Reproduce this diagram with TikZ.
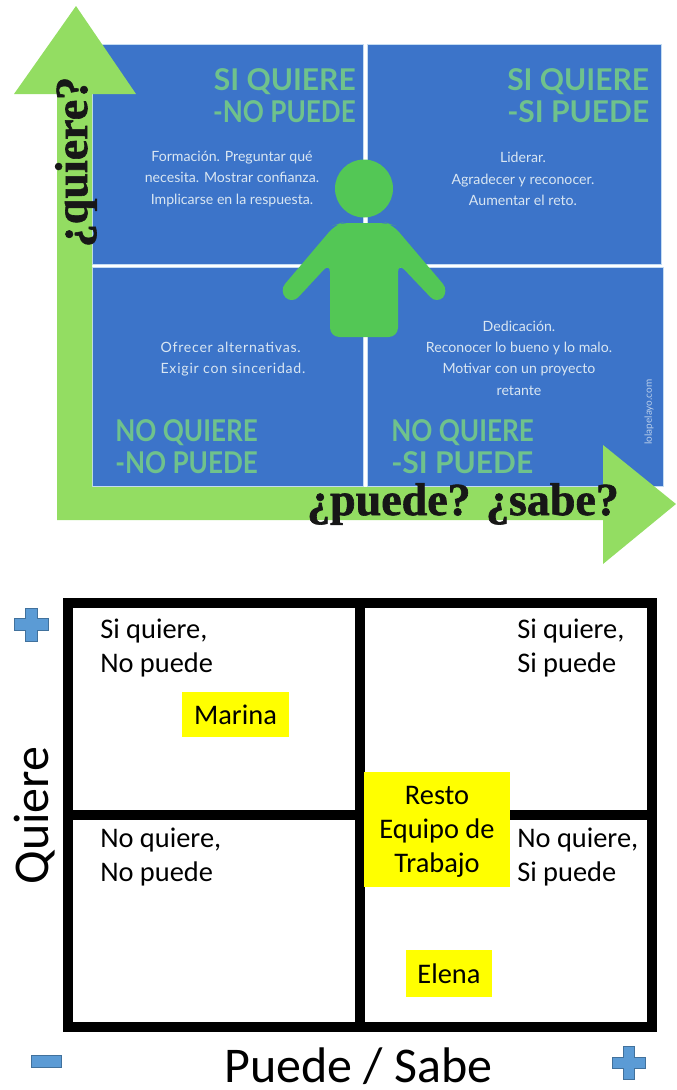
\documentclass[tikz,border=0pt]{standalone}
\usepackage{fontspec}
\usepackage{xcolor}
\usepackage{graphicx}
\setmainfont{Carlito}
\newfontfamily\capsfont{Lato}
\newfontfamily\restfont{Lato}
\newfontfamily\widefont[LetterSpace=5.4]{Lato}
\newfontfamily\fatfont[BoldFeatures={FakeBold=1.3}]{Liberation Serif}
\usetikzlibrary{positioning}
\newcommand{\narrowcaps}[1]{\scalebox{0.87}[1]{#1}}
\definecolor{panelblue}{HTML}{3C74C9}
\definecolor{panelline}{HTML}{C4DCF2}
\definecolor{arrowgreen}{HTML}{93DD62}
\definecolor{mangreen}{HTML}{53C755}
\definecolor{capsgreen}{HTML}{6FC28C}
\definecolor{restwhite}{HTML}{D9E6F2}
\definecolor{signblue}{HTML}{5B9BD5}
\definecolor{signline}{HTML}{41719C}
\definecolor{boxyellow}{RGB}{255,255,0}
\definecolor{fatblack}{HTML}{171717}
\tikzset{
  quadrant/.style={fill=panelblue,draw=panelline,line width=0.6pt},
  capslabel/.style={font=\capsfont\bfseries\fontsize{22.5}{24.5}\selectfont,text=capsgreen,inner sep=0pt},
  restlabel/.style={font=\restfont\fontsize{10.6}{16}\selectfont,text=restwhite,inner sep=0pt,align=center},
  fatlabel/.style={font=\fatfont\bfseries\fontsize{34.5}{34.5}\selectfont,text=fatblack,inner sep=0pt},
  framebox/.style={draw=black,line width=7.5pt},
  caselabel/.style={font=\fontsize{21.3}{25.5}\selectfont,inner sep=0pt,align=left,anchor=north west},
  namebox/.style={fill=boxyellow,inner sep=0pt,font=\fontsize{21.3}{25.5}\selectfont,align=center},
  axislabel/.style={font=\fontsize{37.5}{37.5}\selectfont,inner sep=0pt},
  sign/.style={fill=signblue,draw=signline,line width=0.5pt}
}
\begin{document}
\begin{tikzpicture}[x=0.75pt,y=-0.75pt]
\useasboundingbox (0,0) rectangle (676,1090);
\draw[quadrant] (92,44) rectangle (363,264);
\draw[quadrant] (367,44) rectangle (661,264);
\draw[quadrant] (92,267) rectangle (363,486);
\draw[quadrant] (367,267) rectangle (663,486);
\fill[mangreen] (364,188.5) circle (29);
\fill[mangreen,rounded corners=7] (341,223) -- (387,223) -- (393,225) -- (449,291) -- (437,304) -- (398,263) -- (398,337) -- (330,337) -- (330,263) -- (292,304) -- (279,291) -- (335,225) -- cycle;
\fill[arrowgreen] (57,520) -- (57,94) -- (14,94) -- (76,6) -- (136,94) -- (92,94) -- (92,487) -- (603,487) -- (603,445) -- (676,504) -- (603,564) -- (603,520) -- cycle;
\node[capslabel,align=right,anchor=north east] (sqnp) at (356,68) {SI QUIERE\\\narrowcaps{-NO PUEDE}};
\node[capslabel,align=left,anchor=north west] (sqsp) at (507,68) {SI QUIERE\\-SI PUEDE};
\node[capslabel,align=left,anchor=north west] (nqnp) at (115,419) {\narrowcaps{NO QUIERE}\\\narrowcaps{-NO PUEDE}};
\node[capslabel,align=left,anchor=north west] (nqsp) at (391,419) {\narrowcaps{NO QUIERE}\\-SI PUEDE};
\node[restlabel] (tl) at (232,179) {Formación. Preguntar qué\\necesita. Mostrar confianza.\\Implicarse en la respuesta.};
\node[restlabel] (tr) at (523,179) {Liderar.\\Agradecer y reconocer.\\Aumentar el reto.};
\node[restlabel,align=left,font=\widefont\fontsize{10.6}{16}\selectfont] (bl) at (233,359) {Ofrecer alternativas.\\Exigir con sinceridad.};
\node[restlabel] (br) at (519,358) {Dedicación.\\Reconocer lo bueno y lo malo.\\Motivar con un proyecto\\retante};
\node[font=\restfont\fontsize{7.5}{9}\selectfont,text=restwhite!80!panelblue,rotate=90,inner sep=0pt] (web) at (649,412) {lolapelayo.com};
\node[fatlabel,rotate=90] (quiere) at (76,162) {¿quiere?};
\node[fatlabel] (puede) at (463,504) {¿puede? ¿sabe?};
\draw[framebox] (68,603) rectangle (652,1027);
\draw[framebox] (360,603) -- (360,1027);
\draw[framebox] (68,815) -- (652,815);
\node[caselabel] (c1) at (100,619) {Si quiere,\\No puede};
\node[caselabel] (c2) at (517,619) {Si quiere,\\Si puede};
\node[caselabel] (c3) at (100,828) {No quiere,\\No puede};
\node[caselabel] (c4) at (517,828) {No quiere,\\Si puede};
\node[namebox,minimum width=80.25pt,minimum height=33.75pt] (marina) at (235.5,714.5) {Marina};
\node[namebox,minimum width=109.5pt,minimum height=86.25pt] (resto) at (437,829.5) {\rule{0pt}{17pt}Resto\\Equipo de\\Trabajo};
\node[namebox,minimum width=64.5pt,minimum height=35.25pt] (elena) at (449,973.5) {Elena};
\node[axislabel,rotate=90] (ejey) at (35,815.5) {Quiere};
\node[axislabel,anchor=base] (ejex) at (358.5,1082) {Puede / Sabe};
\draw[sign] (25,608) -- (37,608) -- (37,618) -- (48,618) -- (48,630) -- (37,630) -- (37,641) -- (25,641) -- (25,630) -- (14,630) -- (14,618) -- (25,618) -- cycle;
\draw[sign] (623,1046) -- (634,1046) -- (634,1057) -- (645,1057) -- (645,1068) -- (634,1068) -- (634,1079) -- (623,1079) -- (623,1068) -- (612,1068) -- (612,1057) -- (623,1057) -- cycle;
\draw[sign] (31,1055) rectangle (61,1067);
\end{tikzpicture}
\end{document}
